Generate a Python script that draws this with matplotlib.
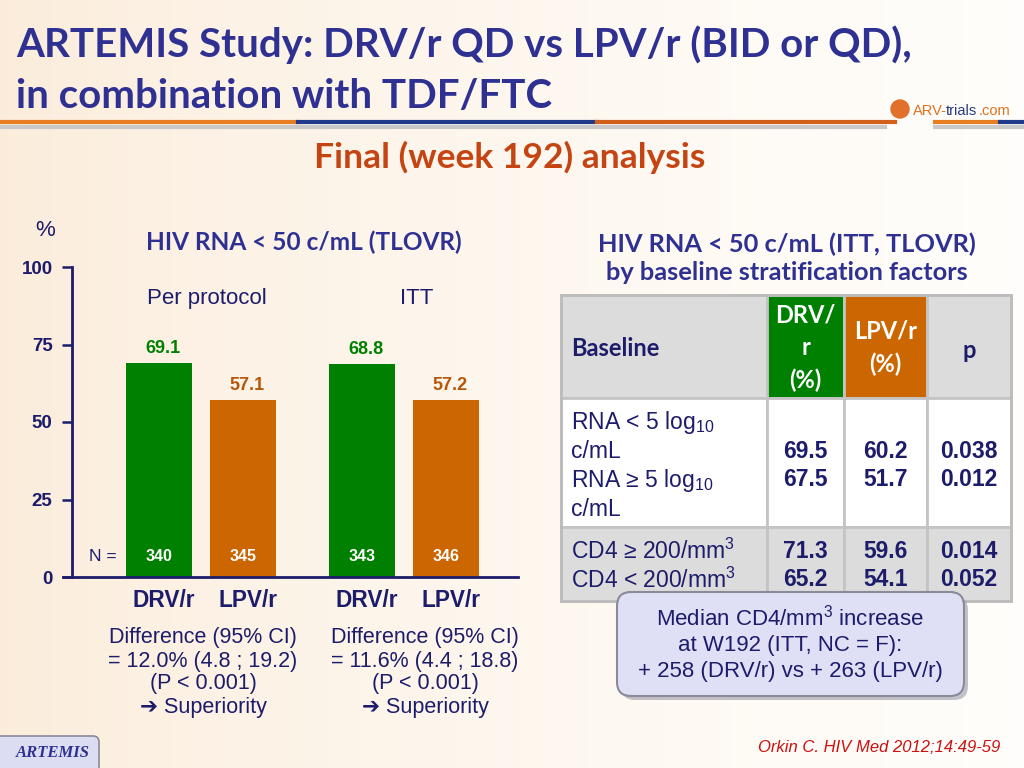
import numpy as np
import matplotlib.pyplot as plt
from matplotlib.patches import Rectangle, FancyBboxPatch

plt.rcParams['mathtext.fontset'] = 'custom'
plt.rcParams['mathtext.rm'] = 'Liberation Sans'
plt.rcParams['mathtext.bf'] = 'Liberation Sans:bold'

# bar chart data
groups = ['Per protocol', 'ITT']
arms = ['DRV/r', 'LPV/r']
pct = [69.1, 57.1, 68.8, 57.2]
n_pat = [340, 345, 343, 346]
diff_pp = ['Difference (95% CI)', '= 12.0% (4.8 ; 19.2)', '(P < 0.001)', '\u2794 Superiority']
diff_itt = ['Difference (95% CI)', '= 11.6% (4.4 ; 18.8)', '(P < 0.001)', '\u2794 Superiority']

# table data
tbl_header = ['Baseline', 'DRV/\nr\n(%)', 'LPV/r\n(%)', 'p']
rna_labels = ['RNA < 5 log$_{10}$', 'c/mL', 'RNA \u2265 5 log$_{10}$', 'c/mL']
cd4_labels = ['CD4 \u2265 200/mm$^3$', 'CD4 < 200/mm$^3$']
drv_rna = ['69.5', '67.5']
lpv_rna = ['60.2', '51.7']
p_rna = ['0.038', '0.012']
drv_cd4 = ['71.3', '65.2']
lpv_cd4 = ['59.6', '54.1']
p_cd4 = ['0.014', '0.052']

navy = '#1c1c6b'
title_blue = '#2e3192'
green = '#008000'
orange = '#cc6600'
orange_txt = '#b5570c'
arial = ['Liberation Sans', 'DejaVu Sans']
calibri = ['Lato', 'DejaVu Sans']

fig = plt.figure(figsize=(10.24, 7.68), dpi=100)

# slide background, pixel coordinates
bg = fig.add_axes([0, 0, 1, 1])
bg.set_xlim(0, 1024)
bg.set_ylim(768, 0)
bg.axis('off')
t = np.linspace(0, 1, 256)
peach = np.array([0.985, 0.925, 0.855])
white = np.array([1.0, 0.995, 0.985])
grad = peach[None, :] * (1 - t[:, None] ** 0.7) + white[None, :] * (t[:, None] ** 0.7)
bg.imshow(grad[None, :, :], extent=[0, 1024, 768, 0], aspect='auto', zorder=0)

# header
bg.text(16, 45, 'ARTEMIS Study: DRV/r QD vs LPV/r (BID or QD),', fontsize=29, fontweight='bold',
        color=title_blue, family=calibri, va='center')
bg.text(16, 97, 'in combination with TDF/FTC', fontsize=29, fontweight='bold',
        color=title_blue, family=calibri, va='center')
bg.plot([0, 298], [122, 122], color='#e87e22', lw=3)
bg.plot([298, 597], [122, 122], color='#1f3a8a', lw=3)
bg.plot([597, 895], [122, 122], color='#d2601a', lw=3)
bg.plot([0, 885], [127, 127], color='#c8c8c8', lw=3)
bg.plot([935, 1000], [122, 122], color='#e87e22', lw=3)
bg.plot([1000, 1024], [122, 122], color='#1f3a8a', lw=3)
bg.plot([935, 1024], [127, 127], color='#c8c8c8', lw=3)
bg.add_patch(plt.Circle((900, 109), 9, color='#e0702a', zorder=3))
bg.text(913, 111, 'ARV-', fontsize=10.5, color='#e07020', va='center', family=arial)
bg.text(946, 111, 'trials', fontsize=10.5, color='#2a3a80', va='center', family=arial)
bg.text(979, 111, '.com', fontsize=10.5, color='#e07020', va='center', family=arial)
bg.text(510, 157, 'Final (week 192) analysis', fontsize=25.5, fontweight='bold',
        color='#c44512', family=calibri, ha='center', va='center')

# bar chart
ax = fig.add_axes([63 / 1024, 191 / 768, 455 / 1024, 310 / 768])
ax.patch.set_alpha(0)
xpos = [0, 1, 2.417, 3.417]
cols = [green, orange, green, orange]
ax.bar(xpos, pct, width=0.786, color=cols)
ax.set_xlim(-1.143, 4.274)
ax.set_ylim(0, 100)
ax.set_yticks([0, 25, 50, 75, 100])
ax.set_xticks([])
for s in ['top', 'right']:
    ax.spines[s].set_visible(False)
ax.spines['left'].set_position(('data', -1.036))
for s in ['left', 'bottom']:
    ax.spines[s].set_color(navy)
    ax.spines[s].set_linewidth(2)
ax.tick_params(axis='y', length=7, width=1.8, color=navy, labelcolor=navy, labelsize=13.5, pad=7)
for lab in ax.get_yticklabels():
    lab.set_fontweight('bold')
    lab.set_family(arial)
for i, (x, v, c, n) in enumerate(zip(xpos, pct, cols, n_pat)):
    ax.text(x + 0.05, v + 1.8, f'{v:.1f}', ha='center', va='bottom', fontsize=13, fontweight='bold',
            color=green if c == green else orange_txt, family=arial)
    ax.text(x, 6.5, str(n), ha='center', va='center', fontsize=11.5, fontweight='bold',
            color='white', family=arial)
    ax.text(x + 0.06, -7.7, arms[i % 2], ha='center', va='center', fontsize=16.3,
            fontweight='bold', color=navy, family=arial, clip_on=False)
ax.text(-0.667, 6.5, 'N =', ha='center', va='center', fontsize=12.5, color=navy, family=arial)
ax.text(0.57, 89.7, groups[0], ha='center', va='center', fontsize=16, color=navy, family=arial)
ax.text(3.07, 89.7, groups[1], ha='center', va='center', fontsize=16, color=navy, family=arial)

bg.text(45, 230, '%', fontsize=16, color=navy, family=arial, ha='center', va='center')
bg.text(304, 242, 'HIV RNA < 50 c/mL (TLOVR)', fontsize=17.6, fontweight='bold', color=title_blue,
        family=calibri, ha='center', va='center')
for i, (a, b) in enumerate(zip(diff_pp, diff_itt)):
    y = 638 + 23 * i
    bg.text(203, y, a, fontsize=15.5, color=navy, family=arial, ha='center', va='center')
    bg.text(425, y, b, fontsize=15.5, color=navy, family=arial, ha='center', va='center')

# table
bg.text(787, 244, 'HIV RNA < 50 c/mL (ITT, TLOVR)', fontsize=18.3, fontweight='bold', color=title_blue,
        family=calibri, ha='center', va='center')
bg.text(787, 272, 'by baseline stratification factors', fontsize=18.3, fontweight='bold', color=title_blue,
        family=calibri, ha='center', va='center')
xe = [561, 767, 844, 927, 1011]
ye = [295, 398, 527, 601]
row_fill = ['#dcdcdc', 'white', '#dcdcdc']
for r in range(3):
    for c in range(4):
        fc = row_fill[r]
        if r == 0 and c == 1:
            fc = green
        if r == 0 and c == 2:
            fc = orange
        bg.add_patch(Rectangle((xe[c], ye[r]), xe[c + 1] - xe[c], ye[r + 1] - ye[r], facecolor=fc,
                               edgecolor='#c4c4c4', lw=2, zorder=2))
bg.add_patch(Rectangle((xe[0], ye[0]), xe[-1] - xe[0], ye[-1] - ye[0], fill=False,
                       edgecolor='#bcbcbc', lw=2, zorder=3))
hx = [571, 805.5, 885.5, 969]
bg.text(hx[0], 348, tbl_header[0], fontsize=17, fontweight='bold', color=navy, family=calibri,
        va='center', zorder=4)
bg.text(hx[1], 348, tbl_header[1], fontsize=17, fontweight='bold', color='white', family=calibri,
        ha='center', va='center', linespacing=1.5, zorder=4)
bg.text(hx[2], 348, tbl_header[2], fontsize=17, fontweight='bold', color='white', family=calibri,
        ha='center', va='center', linespacing=1.5, zorder=4)
bg.text(hx[3], 350, tbl_header[3], fontsize=17, fontweight='bold', color=navy, family=calibri,
        ha='center', va='center', zorder=4)
for i, lab in enumerate(rna_labels):
    bg.text(571, 423 + 29 * i, lab, fontsize=16.5, color=navy, family=arial, va='center', zorder=4)
for i, lab in enumerate(cd4_labels):
    bg.text(571, 551 + 29 * i, lab, fontsize=16.5, color=navy, family=arial, va='center', zorder=4)
for vals, yy in [((drv_rna, lpv_rna, p_rna), 451), ((drv_cd4, lpv_cd4, p_cd4), 551)]:
    for k, col in enumerate(vals):
        for j, v in enumerate(col):
            bg.text(hx[k + 1], yy + 29 * j, v, fontsize=16.5, fontweight='bold', color=navy,
                    family=arial, ha='center', va='center', zorder=4)

# callout
bg.add_patch(FancyBboxPatch((621, 596), 347, 104, boxstyle='round,pad=0,rounding_size=14',
                            facecolor='#9a9aa6', edgecolor='none', alpha=0.6, zorder=5))
bg.add_patch(FancyBboxPatch((617, 592), 347, 104, boxstyle='round,pad=0,rounding_size=14',
                            facecolor='#dfdff6', edgecolor='#8a8a98', lw=1.5, zorder=6))
call = ['Median CD4/mm$^3$ increase', 'at W192 (ITT, NC = F):', '+ 258 (DRV/r) vs + 263 (LPV/r)']
for i, line in enumerate(call):
    bg.text(790, 618 + 27 * i, line, fontsize=16, color=navy, family=arial, ha='center',
            va='center', zorder=7)

# footer
bg.text(1000, 748, 'Orkin C. HIV Med 2012;14:49-59', fontsize=12, style='italic', color='#cc1010',
        family=arial, ha='right', va='center')
bg.add_patch(FancyBboxPatch((-10, 736), 109, 40, boxstyle='round,pad=0,rounding_size=6',
                            facecolor='#dcdcf2', edgecolor='#8a8a98', lw=1.2, zorder=5))
bg.text(53, 753, 'ARTEMIS', fontsize=12, fontweight='bold', style='italic', color=title_blue,
        family=['Liberation Serif'], ha='center', va='center', zorder=6)

fig.savefig('out.png', dpi=100)
